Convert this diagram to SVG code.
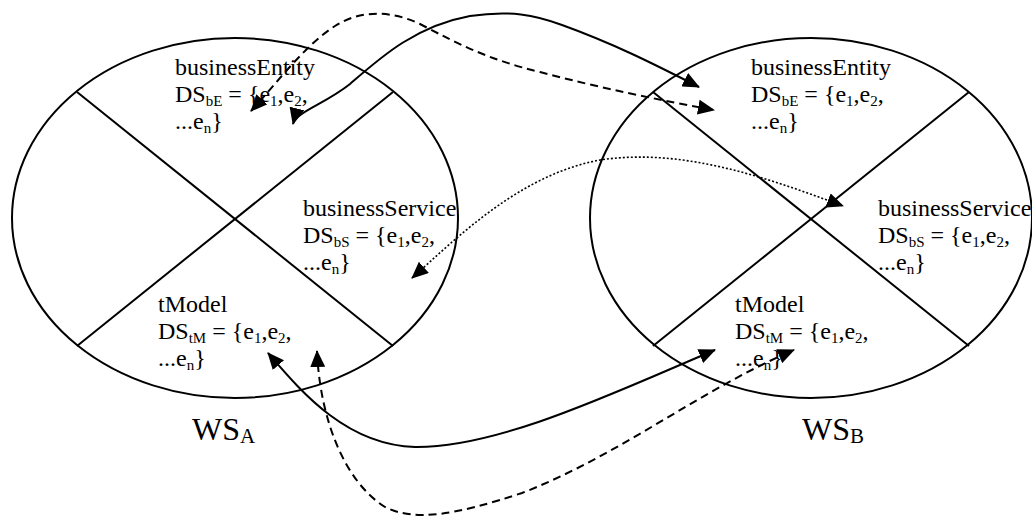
<svg xmlns="http://www.w3.org/2000/svg" width="1032" height="517" viewBox="0 0 1032 517">
<style>
.shape{fill:none;stroke:#000;stroke-width:2}
.t{font-family:"Liberation Serif","Times New Roman",serif;font-size:24px;fill:#000}
.s{font-size:15px}
.lbl{font-family:"Liberation Serif","Times New Roman",serif;font-size:32px;fill:#000}
.ls{font-size:21px}
.c{fill:none;stroke:#000;stroke-width:2}
.dash{stroke-dasharray:8,5}
.dot{stroke-width:1.6;stroke-dasharray:2,2}
</style>
<defs>
<marker id="arr" viewBox="0 0 17 15" refX="16" refY="7.5" markerWidth="17" markerHeight="15" markerUnits="userSpaceOnUse" orient="auto-start-reverse">
<path d="M0,0 L17,7.5 L0,15 z" fill="#000"/>
</marker>
</defs>
<rect width="1032" height="517" fill="#fff"/>

<g id="wsA">
<ellipse class="shape" cx="235" cy="218" rx="223" ry="180"/>
<line class="shape" x1="77" y1="92" x2="393" y2="346"/>
<line class="shape" x1="393" y1="92" x2="77" y2="346"/>
<text class="lbl" x="192" y="440">WS<tspan class="ls" dy="3">A</tspan></text>
</g>
<g id="wsB">
<ellipse class="shape" cx="811" cy="218" rx="221" ry="180"/>
<line class="shape" x1="653" y1="92" x2="969" y2="346"/>
<line class="shape" x1="969" y1="92" x2="653" y2="346"/>
<text class="lbl" x="802" y="440">WS<tspan class="ls" dy="3">B</tspan></text>
</g>

<g id="wsA-businessEntity">
<text class="t" x="175" y="75">businessEntity</text>
<text class="t" x="175" y="102">DS<tspan class="s" dy="4">bE</tspan><tspan dy="-4"> = {e</tspan><tspan class="s" dy="4">1</tspan><tspan dy="-4">,e</tspan><tspan class="s" dy="4">2</tspan><tspan dy="-4">,</tspan></text>
<text class="t" x="175" y="129">...e<tspan class="s" dy="4">n</tspan><tspan dy="-4">}</tspan></text>
</g>
<g id="wsA-businessService">
<text class="t" x="303" y="216">businessService</text>
<text class="t" x="303" y="243">DS<tspan class="s" dy="4">bS</tspan><tspan dy="-4"> = {e</tspan><tspan class="s" dy="4">1</tspan><tspan dy="-4">,e</tspan><tspan class="s" dy="4">2</tspan><tspan dy="-4">,</tspan></text>
<text class="t" x="303" y="270">...e<tspan class="s" dy="4">n</tspan><tspan dy="-4">}</tspan></text>
</g>
<g id="wsA-tModel">
<text class="t" x="158" y="312">tModel</text>
<text class="t" x="158" y="339">DS<tspan class="s" dy="4">tM</tspan><tspan dy="-4"> = {e</tspan><tspan class="s" dy="4">1</tspan><tspan dy="-4">,e</tspan><tspan class="s" dy="4">2</tspan><tspan dy="-4">,</tspan></text>
<text class="t" x="158" y="366">...e<tspan class="s" dy="4">n</tspan><tspan dy="-4">}</tspan></text>
</g>

<g id="wsB-businessEntity">
<text class="t" x="751" y="75">businessEntity</text>
<text class="t" x="751" y="102">DS<tspan class="s" dy="4">bE</tspan><tspan dy="-4"> = {e</tspan><tspan class="s" dy="4">1</tspan><tspan dy="-4">,e</tspan><tspan class="s" dy="4">2</tspan><tspan dy="-4">,</tspan></text>
<text class="t" x="751" y="129">...e<tspan class="s" dy="4">n</tspan><tspan dy="-4">}</tspan></text>
</g>
<g id="wsB-businessService">
<text class="t" x="878" y="216">businessService</text>
<text class="t" x="878" y="243">DS<tspan class="s" dy="4">bS</tspan><tspan dy="-4"> = {e</tspan><tspan class="s" dy="4">1</tspan><tspan dy="-4">,e</tspan><tspan class="s" dy="4">2</tspan><tspan dy="-4">,</tspan></text>
<text class="t" x="878" y="270">...e<tspan class="s" dy="4">n</tspan><tspan dy="-4">}</tspan></text>
</g>
<g id="wsB-tModel">
<text class="t" x="735" y="312">tModel</text>
<text class="t" x="735" y="339">DS<tspan class="s" dy="4">tM</tspan><tspan dy="-4"> = {e</tspan><tspan class="s" dy="4">1</tspan><tspan dy="-4">,e</tspan><tspan class="s" dy="4">2</tspan><tspan dy="-4">,</tspan></text>
<text class="t" x="735" y="366">...e<tspan class="s" dy="4">n</tspan><tspan dy="-4">}</tspan></text>
</g>

<g id="connectors">
<path class="c" marker-start="url(#arr)" marker-end="url(#arr)" d="M293,124 C296,112 325,104 350,84 C380,58 415,26 470,16 C510,10 535,15 562,25 C612,43 652,63 699,87"/>
<path class="c dash" marker-start="url(#arr)" marker-end="url(#arr)" d="M251,111 C275,85 305,45 335,26 C360,10 390,10 420,24 C460,45 490,60 540,72 C600,88 660,100 714,110"/>
<path class="c dot" marker-start="url(#arr)" marker-end="url(#arr)" d="M412,278 C460,235 520,175 600,160 C680,148 760,175 843,206"/>
<path class="c" marker-start="url(#arr)" marker-end="url(#arr)" d="M268,353 C300,390 345,445 415,447 C500,448 620,390 715,350"/>
<path class="c dash" marker-start="url(#arr)" marker-end="url(#arr)" d="M317,351 C320,420 345,482 385,507 C415,522 455,515 522,493 C620,455 700,390 794,350"/>
</g>
</svg>
